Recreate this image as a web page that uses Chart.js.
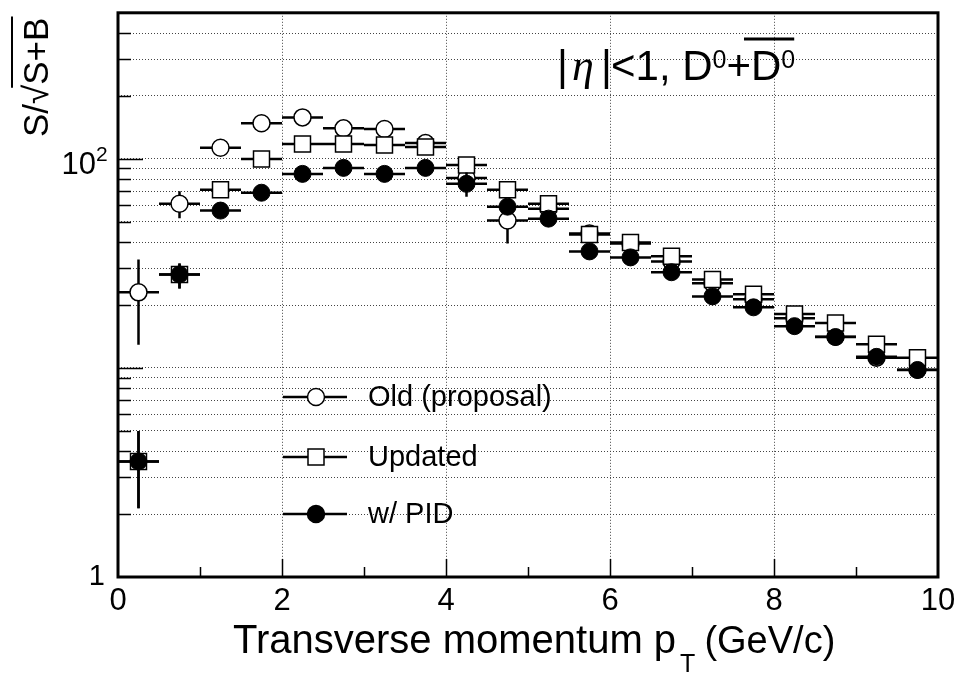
<!DOCTYPE html>
<html lang="en">
<head>
<meta charset="UTF-8">
<title>S/sqrt(S+B) vs pT</title>
<script src="https://cdn.jsdelivr.net/npm/chart.js"></script>
<style>
  html, body { margin: 0; padding: 0; background: #fff; }
  canvas { display: block; }
</style>
</head>
<body>
<canvas id="myChart" width="959" height="673"></canvas>
<script>
// pT bin centres (GeV/c), bins are 0.5 wide
const ptBins = [0.25, 0.75, 1.25, 1.75, 2.25, 2.75, 3.25, 3.75, 4.25, 4.75,
                5.25, 5.75, 6.25, 6.75, 7.25, 7.75, 8.25, 8.75, 9.25, 9.75];
const binHalfWidth = 0.25;

const oldVals = [23.0, 61, 113, 148, 158, 140, 139, 119, 81, 50.7,
                 57.8, 44, 39.4, 32.3, 25.4, 21.3, 17.3, 14.1, 11.2, 9.8];
const updVals = [3.57, 28, 71.2, 100, 118, 118, 116.6, 114, 93.6, 71.2,
                 61, 43.5, 39.8, 34.2, 26.5, 22.5, 18.1, 16.4, 13.0, 11.2];
const pidVals = [3.57, 28, 56.6, 68.9, 84.8, 90.6, 84.8, 90.6, 76, 59.1,
                 51.8, 36.1, 33.8, 28.7, 22.0, 19.5, 15.85, 14.06, 11.3, 9.78];

// vertical error bars [low, high]; null where hidden by the marker
const oldErr = [[12.9, 33.0], [52, 70], null, null, null, null, null, null, null, [39.4, 59],
                null, null, null, null, null, null, null, null, null, null];
const updErr = [[2.13, 5.0], [24, 31.6], null, null, null, null, null, null, null, null,
                null, null, null, null, null, null, null, null, null, null];
const pidErr = [[2.13, 5.0], [24, 31.6], null, null, null, null, null, null, [66, 86], null,
                null, null, null, null, null, null, null, null, null, null];

const yTickVals = [1, 2, 3, 4, 5, 6, 7, 8, 9, 10, 20, 30, 40, 50, 60, 70, 80, 90,
                   100, 200, 300, 400, 500];
const legendLabels = ['Old (proposal)', 'Updated', 'w/ PID'];

const FONT = '"Liberation Sans", Arial, sans-serif';
Chart.defaults.font.family = FONT;

const toPoints = vals => vals.map((v, i) => ({ x: ptBins[i], y: v }));
const errors = [oldErr, updErr, pidErr];

function drawMarker(ctx, style, x, y) {
  ctx.save();
  ctx.lineWidth = 1.5;
  ctx.strokeStyle = '#000';
  ctx.beginPath();
  if (style === 'rect') {
    ctx.rect(x - 8, y - 8, 16, 16);
    ctx.fillStyle = '#fff';
  } else {
    ctx.arc(x, y, 8.5, 0, Math.PI * 2);
    ctx.fillStyle = style === 'filled' ? '#000' : '#fff';
  }
  ctx.fill();
  ctx.stroke();
  ctx.restore();
}

const rootStyle = {
  id: 'rootStyle',
  beforeDatasetsDraw(chart) {
    const { ctx, chartArea: a, scales: { x, y } } = chart;
    ctx.save();
    ctx.strokeStyle = '#000';
    ctx.lineWidth = 1.5;
    ctx.beginPath();
    yTickVals.forEach(v => {
      if (v === 1 || v === 500) return;
      const py = Math.round(y.getPixelForValue(v)) + 0.5;
      const len = (v === 10 || v === 100) ? 25 : 13;
      ctx.moveTo(a.left, py);
      ctx.lineTo(a.left + len, py);
    });
    for (let i = 1; i < 10; i++) {
      const px = Math.round(x.getPixelForValue(i)) + 0.5;
      const len = i % 2 === 0 ? 18 : 10;
      ctx.moveTo(px, a.bottom);
      ctx.lineTo(px, a.bottom - len);
    }
    ctx.stroke();
    ctx.lineWidth = 3;
    ctx.strokeRect(a.left, a.top, a.right - a.left, a.bottom - a.top);
    ctx.restore();
  },
  beforeDatasetDraw(chart, args) {
    const { ctx, scales: { x, y } } = chart;
    const ds = chart.data.datasets[args.index];
    const err = errors[ds.errIndex];
    ctx.save();
    ctx.strokeStyle = '#000';
    ctx.lineWidth = 2.5;
    ctx.beginPath();
    ds.data.forEach((p, i) => {
      const py = y.getPixelForValue(p.y);
      const px = x.getPixelForValue(p.x);
      ctx.moveTo(x.getPixelForValue(p.x - binHalfWidth), py);
      ctx.lineTo(x.getPixelForValue(p.x + binHalfWidth), py);
      if (err[i]) {
        ctx.moveTo(px, y.getPixelForValue(err[i][0]));
        ctx.lineTo(px, y.getPixelForValue(err[i][1]));
      }
    });
    ctx.stroke();
    ctx.restore();
  },
  afterDraw(chart) {
    const { ctx, scales: { y } } = chart;
    ctx.save();
    ctx.fillStyle = '#000';
    ctx.strokeStyle = '#000';
    ctx.textBaseline = 'alphabetic';

    // "10^2" label on the y axis
    const y100 = y.getPixelForValue(100);
    ctx.font = '31px ' + FONT;
    ctx.textAlign = 'right';
    ctx.fillText('10', 96, y100 + 15);
    ctx.textAlign = 'left';
    ctx.font = '21px ' + FONT;
    ctx.fillText('2', 96, y100 + 2);

    // y title  S/sqrt(S+B)
    ctx.save();
    ctx.translate(48, 137);
    ctx.rotate(-Math.PI / 2);
    ctx.font = '35px ' + FONT;
    ctx.fillText('S/√', 0, 0);
    const w1 = ctx.measureText('S/√').width;
    ctx.fillText('S+B', w1, 0);
    const w2 = ctx.measureText('S+B').width;
    ctx.lineWidth = 2;
    ctx.beginPath();
    ctx.moveTo(w1 - 3, -36);
    ctx.lineTo(w1 + w2 + 1, -36);
    ctx.stroke();
    ctx.restore();

    // x title with subscript T
    ctx.font = '40px ' + FONT;
    const t1 = 'Transverse momentum p', t3 = '(GeV/c)';
    let xx = 233;
    ctx.fillText(t1, xx, 653);
    xx += ctx.measureText(t1).width + 4;
    ctx.font = '25px ' + FONT;
    ctx.fillText('T', xx, 672);
    xx += ctx.measureText('T').width + 9;
    ctx.font = '38px ' + FONT;
    ctx.fillText(t3, xx, 653);

    // annotation |eta|<1, D0+D0bar
    const base = 80;
    ctx.font = '42px ' + FONT;
    ctx.fillText('|', 557, base);
    ctx.font = 'italic 44px "Liberation Serif", serif';
    ctx.fillText('η', 572, base);
    ctx.font = '42px ' + FONT;
    ctx.fillText('|', 601, base);
    let ax = 611;
    ctx.fillText('<1, D', ax, base);
    ax += ctx.measureText('<1, D').width;
    ctx.font = '25px ' + FONT;
    ctx.fillText('0', ax, 68);
    ax += ctx.measureText('0').width;
    ctx.font = '42px ' + FONT;
    ctx.fillText('+', ax, base);
    ax += ctx.measureText('+').width;
    const barStart = ax - 7;
    ctx.fillText('D', ax, base);
    ax += ctx.measureText('D').width;
    ctx.font = '25px ' + FONT;
    ctx.fillText('0', ax, 68);
    ax += ctx.measureText('0').width;
    ctx.lineWidth = 3;
    ctx.beginPath();
    ctx.moveTo(barStart, 39);
    ctx.lineTo(ax - 1, 39);
    ctx.stroke();

    // legend
    const rows = [397, 457, 514];
    const styles = ['open', 'rect', 'filled'];
    ctx.font = '29px ' + FONT;
    ctx.textBaseline = 'middle';
    rows.forEach((ry, i) => {
      ctx.lineWidth = 2.5;
      ctx.beginPath();
      ctx.moveTo(283, ry);
      ctx.lineTo(347, ry);
      ctx.stroke();
      drawMarker(ctx, styles[i], 316, ry);
      ctx.fillStyle = '#000';
      ctx.fillText(legendLabels[i], 368, ry + 1);
    });
    ctx.restore();
  }
};

const ctx = document.getElementById('myChart');
new Chart(ctx, {
  type: 'scatter',
  data: {
    datasets: [
      { label: legendLabels[0], data: toPoints(oldVals), errIndex: 0, order: 3,
        pointStyle: 'circle', pointRadius: 8.5, pointBackgroundColor: '#fff',
        pointBorderColor: '#000', pointBorderWidth: 1.5 },
      { label: legendLabels[1], data: toPoints(updVals), errIndex: 1, order: 2,
        pointStyle: 'rect', pointRadius: 11.3, pointBackgroundColor: '#fff',
        pointBorderColor: '#000', pointBorderWidth: 1.5 },
      { label: legendLabels[2], data: toPoints(pidVals), errIndex: 2, order: 1,
        pointStyle: 'circle', pointRadius: 8.5, pointBackgroundColor: '#000',
        pointBorderColor: '#000', pointBorderWidth: 1 }
    ]
  },
  options: {
    responsive: false,
    animation: false,
    devicePixelRatio: 1,
    layout: { padding: { top: 8, right: 21, left: 0, bottom: 0 } },
    plugins: { legend: { display: false }, tooltip: { enabled: false } },
    scales: {
      x: {
        type: 'linear', min: 0, max: 10,
        ticks: { stepSize: 2, color: '#000', font: { size: 31 }, padding: 6, maxRotation: 0 },
        grid: { color: '#444', lineWidth: 1, drawTicks: false },
        border: { display: false, dash: [1, 2] },
        afterFit: s => { s.height = 96; s.paddingLeft = 0; s.paddingRight = 0; }
      },
      y: {
        type: 'logarithmic', min: 1, max: 500,
        afterBuildTicks: s => { s.ticks = yTickVals.map(v => ({ value: v })); },
        ticks: {
          autoSkip: false, color: '#000', font: { size: 29 }, padding: 13,
          callback: v => v === 1 ? '1' : ''
        },
        grid: { color: '#444', lineWidth: 1, drawTicks: false },
        border: { display: false, dash: [1, 2] },
        afterFit: s => { s.width = 118; s.paddingTop = 0; s.paddingBottom = 0; }
      }
    }
  },
  plugins: [rootStyle]
});
</script>
</body>
</html>
